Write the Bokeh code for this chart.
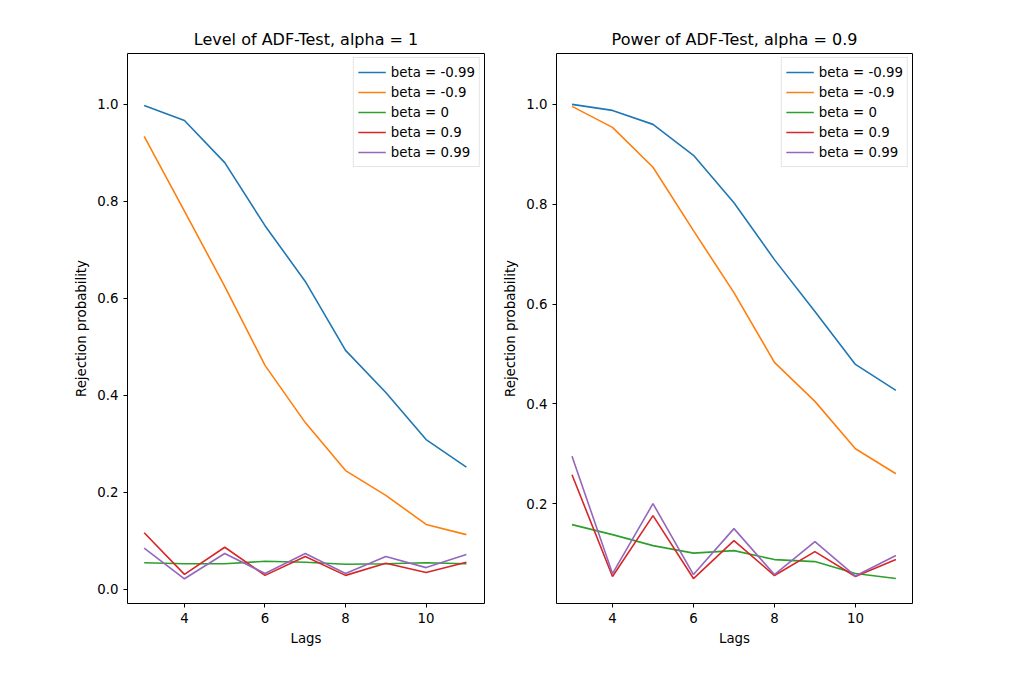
from bokeh.plotting import figure
from bokeh.layouts import row
from bokeh.models import FixedTicker, Range1d, Legend, LegendItem, PrintfTickFormatter
from bokeh.embed import file_html
from bokeh.resources import INLINE

lags = [3, 4, 5, 6, 7, 8, 9, 10, 11]
labels = ["beta = -0.99", "beta = -0.9", "beta = 0", "beta = 0.9", "beta = 0.99"]
colors = ["#1f77b4", "#ff7f0e", "#2ca02c", "#d62728", "#9467bd"]

level_m099 = [0.998, 0.967, 0.88, 0.75, 0.635, 0.493, 0.406, 0.309, 0.252]
level_m09 = [0.934, 0.78, 0.625, 0.462, 0.344, 0.245, 0.194, 0.134, 0.113]
level_0 = [0.055, 0.053, 0.053, 0.058, 0.056, 0.052, 0.053, 0.055, 0.053]
level_09 = [0.117, 0.031, 0.087, 0.029, 0.068, 0.029, 0.054, 0.035, 0.056]
level_099 = [0.085, 0.022, 0.074, 0.033, 0.074, 0.033, 0.068, 0.045, 0.072]

power_m099 = [1.0, 0.988, 0.96, 0.898, 0.803, 0.689, 0.585, 0.479, 0.427]
power_m09 = [0.996, 0.954, 0.874, 0.747, 0.623, 0.483, 0.405, 0.31, 0.26]
power_0 = [0.158, 0.138, 0.116, 0.101, 0.106, 0.088, 0.084, 0.06, 0.05]
power_09 = [0.258, 0.054, 0.176, 0.05, 0.126, 0.056, 0.104, 0.054, 0.088]
power_099 = [0.295, 0.06, 0.2, 0.058, 0.15, 0.058, 0.124, 0.055, 0.096]


def panel(title, series, xr, yr, yticks, width, left, right):
    p = figure(width=width, height=655, title=title, output_backend="svg",
               toolbar_location=None, x_range=Range1d(*xr), y_range=Range1d(*yr),
               min_border_left=left, min_border_right=right,
               min_border_top=53, min_border_bottom=52)
    p.title.align = "center"
    p.title.text_font = "DejaVu Sans"
    p.title.text_font_size = "12pt"
    p.title.text_font_style = "normal"
    p.title.text_color = "black"
    p.xgrid.visible = False
    p.ygrid.visible = False
    p.outline_line_color = "black"
    p.xaxis.axis_label = "Lags"
    p.yaxis.axis_label = "Rejection probability"
    for ax in (p.xaxis[0], p.yaxis[0]):
        ax.axis_label_text_font = "DejaVu Sans"
        ax.axis_label_text_font_size = "10pt"
        ax.axis_label_text_font_style = "normal"
        ax.axis_label_text_color = "black"
        ax.major_label_text_font = "DejaVu Sans"
        ax.major_label_text_font_size = "10pt"
        ax.major_label_text_color = "black"
        ax.minor_tick_line_color = None
        ax.major_tick_line_color = "black"
        ax.major_tick_in = 0
        ax.major_tick_out = 4
        ax.axis_line_color = None
    p.xaxis.ticker = FixedTicker(ticks=[4, 6, 8, 10])
    p.yaxis.ticker = FixedTicker(ticks=yticks)
    p.yaxis.formatter = PrintfTickFormatter(format="%.1f")
    items = []
    for ys, lab, c in zip(series, labels, colors):
        r = p.line(lags, ys, line_color=c, line_width=1.6)
        items.append(LegendItem(label=lab, renderers=[r]))
    leg = Legend(items=items, location="top_right", label_text_font="DejaVu Sans",
                 label_text_font_size="10pt", label_text_color="black",
                 border_line_color="#cccccc",
                 spacing=0, padding=4, margin=4, glyph_width=28, label_height=14)
    p.add_layout(leg)
    return p


p1 = panel("Level of ADF-Test, alpha = 1",
           [level_m099, level_m09, level_0, level_09, level_099],
           (2.586, 11.45), (-0.029, 1.105), [0, 0.2, 0.4, 0.6, 0.8, 1.0], 498, 127, 14)
p2 = panel("Power of ADF-Test, alpha = 0.9",
           [power_m099, power_m09, power_0, power_09, power_099],
           (2.617, 11.41), (0.0, 1.102), [0.2, 0.4, 0.6, 0.8, 1.0], 494, 58, 80)

p = row(p1, p2)
open("out.html", "w").write(file_html(p, INLINE))
